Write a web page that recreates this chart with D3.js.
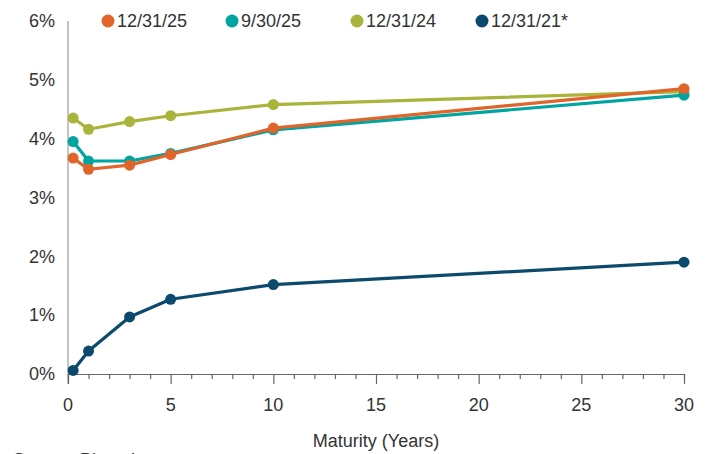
<!DOCTYPE html>
<html>
<head>
<meta charset="utf-8">
<script src="https://cdn.jsdelivr.net/npm/d3@7"></script>
<style>
  html, body { margin: 0; padding: 0; background: #fff; }
  svg { display: block; font-family: "Liberation Sans", Arial, sans-serif; }
</style>
</head>
<body>
<svg id="chart" width="709" height="454"></svg>
<script>
// Treasury yield curves: maturity in years vs yield in %
const maturities = [0.25, 1, 3, 5, 10, 30];
const seriesNames = ["12/31/25", "9/30/25", "12/31/24", "12/31/21*"];
const yields2025Dec = [3.67, 3.48, 3.55, 3.73, 4.18, 4.85];
const yields2025Sep = [3.95, 3.62, 3.62, 3.75, 4.15, 4.74];
const yields2024Dec = [4.35, 4.16, 4.29, 4.39, 4.58, 4.80];
const yields2021Dec = [0.06, 0.39, 0.97, 1.27, 1.52, 1.90];
const seriesColors = ["#e0652b", "#00a4a0", "#a9b43b", "#0b4a6d"];
const xTicks = [0, 5, 10, 15, 20, 25, 30];
const yTicks = [0, 1, 2, 3, 4, 5, 6];
const xTitle = "Maturity (Years)";
const sourceNote = "Source: Bloomberg";

const series = [yields2025Dec, yields2025Sep, yields2024Dec, yields2021Dec].map((vals, i) => ({
  name: seriesNames[i],
  color: seriesColors[i],
  points: vals.map((v, j) => ({ x: maturities[j], y: v }))
}));

const svg = d3.select("#chart");
const plot = { left: 68, right: 684, top: 21, bottom: 374 };

const x = d3.scaleLinear().domain([0, 30]).range([plot.left, plot.right]);
const y = d3.scaleLinear().domain([0, 6]).range([plot.bottom, plot.top]);

// Y axis: plain gray line with percent labels
svg.append("line")
  .attr("x1", plot.left).attr("x2", plot.left)
  .attr("y1", plot.top).attr("y2", plot.bottom + 10)
  .attr("stroke", "#9a9a9a").attr("stroke-width", 1.2);

svg.append("g").selectAll("text").data(yTicks).join("text")
  .attr("x", 55).attr("y", d => y(d))
  .attr("dy", "0.35em")
  .attr("text-anchor", "end")
  .attr("font-size", 18)
  .attr("fill", "#333")
  .text(d => d + "%");

// X axis: minor ticks every year, longer ticks every five years
const xAxisG = svg.append("g").attr("transform", `translate(0,${plot.bottom})`);
xAxisG.call(d3.axisBottom(x).tickValues(d3.range(0, 31, 1)).tickSize(5).tickFormat(""));
xAxisG.selectAll(".tick line").filter(d => d % 5 === 0).attr("y2", 10);
xAxisG.select(".domain").attr("stroke", "#666").attr("stroke-width", 1.2);
xAxisG.selectAll(".tick line").attr("stroke", "#666").attr("stroke-width", 1.2);

svg.append("g").selectAll("text").data(xTicks).join("text")
  .attr("x", d => x(d)).attr("y", plot.bottom + 31)
  .attr("dy", "0.35em")
  .attr("text-anchor", "middle")
  .attr("font-size", 18)
  .attr("fill", "#333")
  .text(d => d);

svg.append("text")
  .attr("x", (plot.left + plot.right) / 2).attr("y", plot.bottom + 67)
  .attr("dy", "0.35em")
  .attr("text-anchor", "middle")
  .attr("font-size", 18)
  .attr("fill", "#333")
  .text(xTitle);

svg.append("text")
  .attr("x", 13).attr("y", 466)
  .attr("font-size", 18)
  .attr("fill", "#333")
  .text(sourceNote);

// Curves, drawn back-to-front so the latest curve sits on top
const line = d3.line().x(d => x(d.x)).y(d => y(d.y));
const drawOrder = [3, 2, 1, 0];
drawOrder.forEach(i => {
  const s = series[i];
  const g = svg.append("g");
  g.append("path")
    .datum(s.points)
    .attr("fill", "none")
    .attr("stroke", s.color)
    .attr("stroke-width", 3.2)
    .attr("stroke-linejoin", "round")
    .attr("d", line);
  g.selectAll("circle").data(s.points).join("circle")
    .attr("cx", d => x(d.x)).attr("cy", d => y(d.y))
    .attr("r", 5.5)
    .attr("fill", s.color);
});

// Legend
const legendX = [108, 232, 357, 482];
const legend = svg.append("g").selectAll("g").data(series).join("g")
  .attr("transform", (d, i) => `translate(${legendX[i]},21)`);
legend.append("circle").attr("r", 6.5).attr("fill", d => d.color);
legend.append("text")
  .attr("x", 9).attr("dy", "0.35em")
  .attr("font-size", 18)
  .attr("fill", "#333")
  .text(d => d.name);
</script>
</body>
</html>
